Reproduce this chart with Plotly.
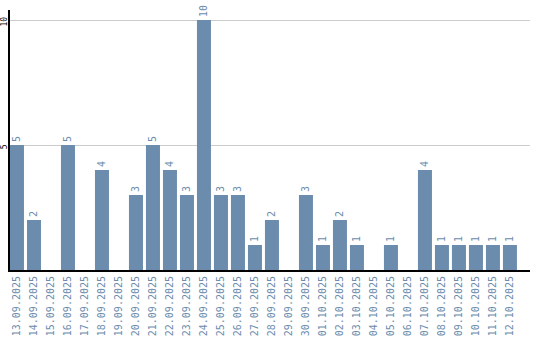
import plotly.graph_objects as go

dates = ["13.09.2025", "14.09.2025", "15.09.2025", "16.09.2025", "17.09.2025", "18.09.2025",
         "19.09.2025", "20.09.2025", "21.09.2025", "22.09.2025", "23.09.2025", "24.09.2025",
         "25.09.2025", "26.09.2025", "27.09.2025", "28.09.2025", "29.09.2025", "30.09.2025",
         "01.10.2025", "02.10.2025", "03.10.2025", "04.10.2025", "05.10.2025", "06.10.2025",
         "07.10.2025", "08.10.2025", "09.10.2025", "10.10.2025", "11.10.2025", "12.10.2025"]
counts = [5, 2, 0, 5, 0, 4, 0, 3, 5, 4, 3, 10, 3, 3, 1, 2, 0, 3, 1, 2, 1, 0, 1, 0, 4, 1, 1, 1, 1, 1]
y_ticks = [5, 10]

bar_color = "#6b8cad"
mono = "DejaVu Sans Mono"

fig = go.Figure(go.Bar(
    x=dates, y=counts,
    text=[str(v) if v else "" for v in counts],
    textposition="outside", textangle=-90, cliponaxis=False,
    textfont=dict(family=mono, size=10, color=bar_color),
    marker=dict(color=bar_color, line=dict(width=0)),
))

fig.update_layout(
    width=540, height=340,
    margin=dict(l=10, r=10, t=10, b=70),
    paper_bgcolor="white", plot_bgcolor="white",
    bargap=0.176, showlegend=False,
    xaxis=dict(
        range=[-0.41, 30.18], tickangle=-90, showgrid=False,
        showline=True, linecolor="black", linewidth=2,
        ticks="", tickfont=dict(family=mono, size=10, color=bar_color),
        automargin=False,
    ),
    yaxis=dict(
        range=[0, 10.4], tickvals=y_ticks, tickangle=-90,
        showgrid=True, gridcolor="#cccccc", gridwidth=1,
        showline=True, linecolor="black", linewidth=1.5,
        zeroline=False, ticks="", ticklabelstandoff=-2, ticklabelshift=3,
        tickfont=dict(family=mono, size=8, color="black"),
        automargin=False,
    ),
)

fig.write_html("out.html")
